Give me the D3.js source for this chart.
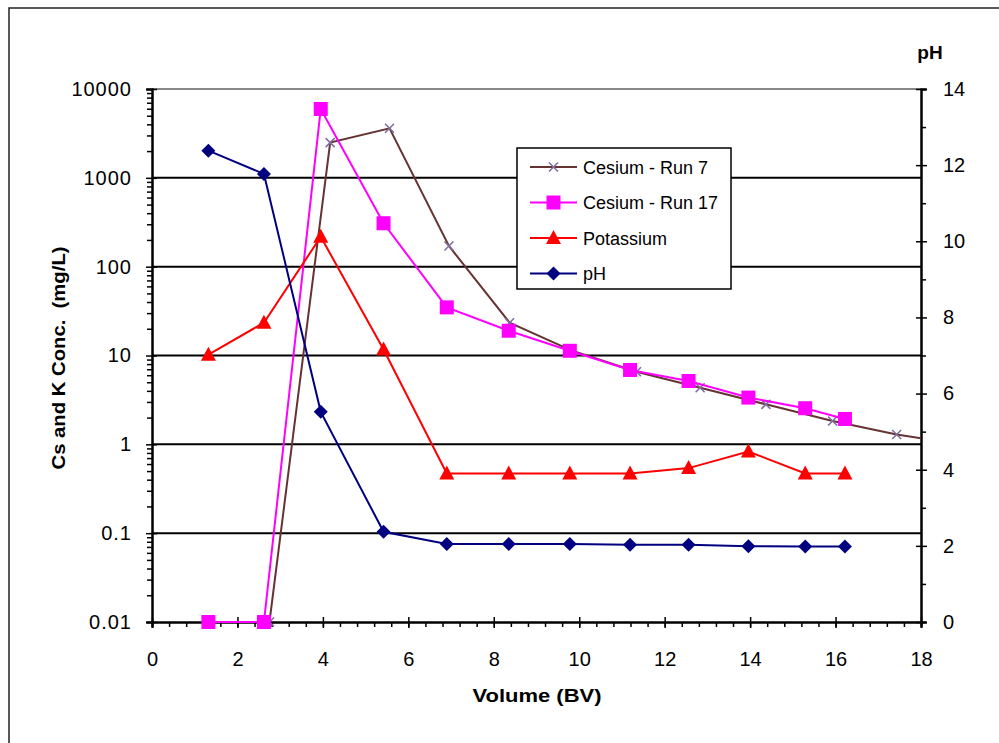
<!DOCTYPE html>
<html>
<head>
<meta charset="utf-8">
<script src="https://cdn.jsdelivr.net/npm/d3@7"></script>
<style>
  body { margin: 0; background: #fff; }
  text { font-family: "Liberation Sans", Arial, sans-serif; }
</style>
</head>
<body>
<div class="forDrawing"></div>
<script>
// volumes (BV) for Run 17, potassium and pH samples
const volume = [1.32, 2.62, 3.95, 5.42, 6.9, 8.35, 9.78, 11.19, 12.56, 13.96, 15.29, 16.22]
const cesiumRun17 = [0.01, 0.01, 5960, 308, 34.8, 19.0, 11.3, 6.87, 5.16, 3.36, 2.55, 1.93]
const potassium = [10.2, 23.4, 217, 11.7, 0.47, 0.47, 0.47, 0.47, 0.54, 0.83, 0.47, 0.47]
const pH = [12.38, 11.77, 5.52, 2.37, 2.05, 2.05, 2.05, 2.03, 2.03, 1.99, 1.98, 1.98]

// Run 7 was sampled on its own volumes (last one runs off the chart)
const volumeRun7 = [1.35, 2.75, 4.17, 5.56, 6.95, 8.37, 9.8, 11.34, 12.83, 14.37, 15.93, 17.43, 18.9]
const cesiumRun7 = [0.01, 0.01, 2490, 3610, 171, 23.4, 11.5, 6.56, 4.34, 2.82, 1.83, 1.29, 1.0]

const xTicks = [0, 2, 4, 6, 8, 10, 12, 14, 16, 18]
const concTicks = [0.01, 0.1, 1, 10, 100, 1000, 10000]
const pHTicks = [0, 2, 4, 6, 8, 10, 12, 14]
const legendNames = ['Cesium - Run 7', 'Cesium - Run 17', 'Potassium', 'pH']

const W = 999, H = 743
const plotLeft = 152, plotRight = 921, plotTop = 89, plotBottom = 622

const svg = d3.select('.forDrawing')
              .append('svg')
              .attr('width', W)
              .attr('height', H)

const x = d3.scaleLinear().domain([0, 18]).range([plotLeft, plotRight])
const y = d3.scaleLog().domain([0.01, 10000]).range([plotBottom, plotTop])
const yR = d3.scaleLinear().domain([0, 14]).range([plotBottom, plotTop])

// outer chart border (runs off right/bottom edge like the original)
svg.append('rect')
   .attr('x', 9).attr('y', 8)
   .attr('width', W + 20).attr('height', H + 20)
   .attr('fill', 'none')
   .attr('stroke', '#222')
   .attr('stroke-width', 1.5)

svg.append('defs').append('clipPath').attr('id', 'plotClip')
   .append('rect')
   .attr('x', plotLeft).attr('y', plotTop - 10)
   .attr('width', plotRight - plotLeft).attr('height', plotBottom - plotTop + 20)

// plot area top edge
svg.append('line')
   .attr('x1', plotLeft).attr('x2', plotRight)
   .attr('y1', plotTop).attr('y2', plotTop)
   .attr('stroke', '#888').attr('stroke-width', 2)

// gridlines at decades
svg.append('g')
   .selectAll('line')
   .data(concTicks.filter(d => d > 0.01 && d < 10000))
   .enter()
   .append('line')
   .attr('x1', plotLeft).attr('x2', plotRight)
   .attr('y1', d => y(d)).attr('y2', d => y(d))
   .attr('stroke', '#000')
   .attr('stroke-width', 2)

// ---- axes ----
function styleAxis(g) {
  g.select('.domain').attr('stroke', '#000').attr('stroke-width', 2)
  g.selectAll('.tick line').attr('stroke', '#000').attr('stroke-width', 1.5)
  g.selectAll('.tick text').attr('font-size', 20).attr('fill', '#000')
   .style('font-family', '"Liberation Sans", Arial, sans-serif')
}

// x minor ticks
const xMinor = d3.range(0, 18.001, 0.4).map(d => +d.toFixed(1))
svg.append('g')
   .attr('transform', `translate(0,${plotBottom})`)
   .call(d3.axisBottom(x).tickValues(xMinor).tickSize(5).tickFormat(''))
   .call(styleAxis)

// x major ticks crossing the axis
svg.append('g')
   .attr('transform', `translate(0,${plotBottom})`)
   .call(d3.axisBottom(x).tickValues(xTicks).tickSize(6).tickPadding(24).tickFormat(d3.format('d')))
   .call(styleAxis)
   .call(g => g.selectAll('.tick line').attr('y1', -5))

// left log axis, minor ticks
const concMinor = []
concTicks.slice(0, -1).forEach(d => {
  for (let k = 2; k <= 9; k++) concMinor.push(d * k)
})
svg.append('g')
   .attr('transform', `translate(${plotLeft},0)`)
   .call(d3.axisLeft(y).tickValues(concMinor).tickSize(5).tickFormat(''))
   .call(styleAxis)

svg.append('g')
   .attr('transform', `translate(${plotLeft},0)`)
   .call(d3.axisLeft(y).tickValues(concTicks).tickSize(6).tickPadding(14)
            .tickFormat(d => d < 1 ? String(d) : d3.format('d')(d)))
   .call(styleAxis)
   .call(g => g.selectAll('.tick line').attr('x1', 5))
   .call(g => g.selectAll('.tick text').attr('letter-spacing', 1))

// right pH axis
const pHMinor = d3.range(1, 14, 2)
svg.append('g')
   .attr('transform', `translate(${plotRight},0)`)
   .call(d3.axisRight(yR).tickValues(pHMinor).tickSize(5).tickFormat(''))
   .call(styleAxis)

svg.append('g')
   .attr('transform', `translate(${plotRight},0)`)
   .call(d3.axisRight(yR).tickValues(pHTicks).tickSize(6).tickPadding(16))
   .call(styleAxis)
   .call(g => g.selectAll('.tick line').attr('x1', -5))

// axis titles
svg.append('text')
   .attr('x', 537).attr('y', 702)
   .attr('text-anchor', 'middle')
   .attr('font-size', 19).attr('font-weight', 'bold')
   .attr('textLength', 129).attr('lengthAdjust', 'spacingAndGlyphs')
   .text('Volume (BV)')

svg.append('text')
   .attr('transform', 'translate(65,358) rotate(-90)')
   .attr('text-anchor', 'middle')
   .attr('font-size', 19).attr('font-weight', 'bold')
   .attr('textLength', 223).attr('lengthAdjust', 'spacingAndGlyphs')
   .style('white-space', 'pre')
   .text('Cs and K Conc.  (mg/L)')

svg.append('text')
   .attr('x', 930).attr('y', 59)
   .attr('text-anchor', 'middle')
   .attr('font-size', 19).attr('font-weight', 'bold')
   .text('pH')

// ---- series ----
const line = d3.line()

function drawMarker(g, type, color, cx, cy) {
  if (type === 'x') {
    const s = 4.5
    g.append('path')
     .attr('d', `M${cx - s},${cy - s}L${cx + s},${cy + s}M${cx - s},${cy + s}L${cx + s},${cy - s}`)
     .attr('stroke', color).attr('stroke-width', 1.6).attr('fill', 'none')
  } else if (type === 'square') {
    g.append('rect')
     .attr('x', cx - 7).attr('y', cy - 7)
     .attr('width', 14).attr('height', 14)
     .attr('fill', color)
  } else if (type === 'triangle') {
    g.append('path')
     .attr('d', `M${cx},${cy - 8}L${cx + 7.5},${cy + 6}L${cx - 7.5},${cy + 6}Z`)
     .attr('fill', color)
  } else {
    g.append('path')
     .attr('d', `M${cx},${cy - 7}L${cx + 7},${cy}L${cx},${cy + 7}L${cx - 7},${cy}Z`)
     .attr('fill', color)
  }
}

const series = [
  { name: legendNames[0], xs: volumeRun7, ys: cesiumRun7, scale: y, line: '#663333', mark: '#7f6f9f', type: 'x' },
  { name: legendNames[1], xs: volume, ys: cesiumRun17, scale: y, line: '#ff00ff', mark: '#ff00ff', type: 'square' },
  { name: legendNames[2], xs: volume, ys: potassium, scale: y, line: '#ff0000', mark: '#ff0000', type: 'triangle' },
  { name: legendNames[3], xs: volume, ys: pH, scale: yR, line: '#000080', mark: '#000080', type: 'diamond' },
]

series.forEach(s => {
  const pts = s.xs.map((v, i) => [x(v), s.scale(s.ys[i])])
  const g = svg.append('g')
  g.append('path')
   .attr('d', line(pts))
   .attr('clip-path', 'url(#plotClip)')
   .attr('fill', 'none')
   .attr('stroke', s.line)
   .attr('stroke-width', 2)
  pts.forEach((p, i) => {
    if (s.xs[i] <= 18) drawMarker(g, s.type, s.mark, p[0], p[1])
  })
})

// ---- legend ----
const lg = svg.append('g')
lg.append('rect')
  .attr('x', 517).attr('y', 148)
  .attr('width', 214).attr('height', 141)
  .attr('fill', '#fff')
  .attr('stroke', '#000')
  .attr('stroke-width', 1.5)

series.forEach((s, i) => {
  const ly = 167 + i * 35.5
  lg.append('line')
    .attr('x1', 530).attr('x2', 577)
    .attr('y1', ly).attr('y2', ly)
    .attr('stroke', s.line).attr('stroke-width', 2)
  drawMarker(lg, s.type, s.mark, 553.5, ly)
  lg.append('text')
    .attr('x', 583).attr('y', ly + 6.5)
    .attr('font-size', 18)
    .text(s.name)
})
</script>
</body>
</html>
